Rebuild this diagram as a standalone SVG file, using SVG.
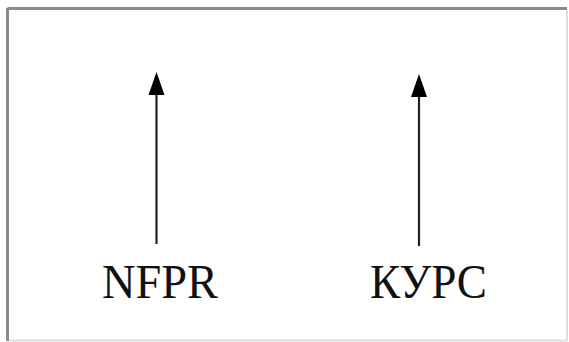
<svg xmlns="http://www.w3.org/2000/svg" width="569" height="342" viewBox="0 0 569 342">
<style>
.lbl{font-family:"Liberation Serif","Times New Roman",serif;font-size:49px;fill:#111;}
.shaft{stroke:#222;stroke-width:2.2;fill:none;}
.head{fill:#000;}
</style>
<rect width="569" height="342" fill="#fff"/>
<g id="frame">
<line x1="7.5" y1="8.5" x2="567" y2="8.5" stroke="#8a8a8a" stroke-width="3"/>
<line x1="7.5" y1="8" x2="7.5" y2="341" stroke="#8a8a8a" stroke-width="3"/>
<line x1="567" y1="10" x2="567" y2="341" stroke="#dedede" stroke-width="2"/>
<line x1="9" y1="340.5" x2="567" y2="340.5" stroke="#dedede" stroke-width="2"/>
</g>
<g id="connectors">
<path class="shaft" d="M156.5 244 V80"/>
<path class="head" d="M148.5 95 L156.5 72 L164.5 95 Z"/>
<path class="shaft" d="M419 246 V82"/>
<path class="head" d="M411 97 L419 74 L427 97 Z"/>
</g>
<g id="nfpr">
<text class="lbl" x="102" y="298" textLength="116" lengthAdjust="spacingAndGlyphs">NFPR</text>
</g>
<g id="kurs">
<text class="lbl" x="370" y="298" textLength="117" lengthAdjust="spacingAndGlyphs">КУРС</text>
</g>
</svg>
